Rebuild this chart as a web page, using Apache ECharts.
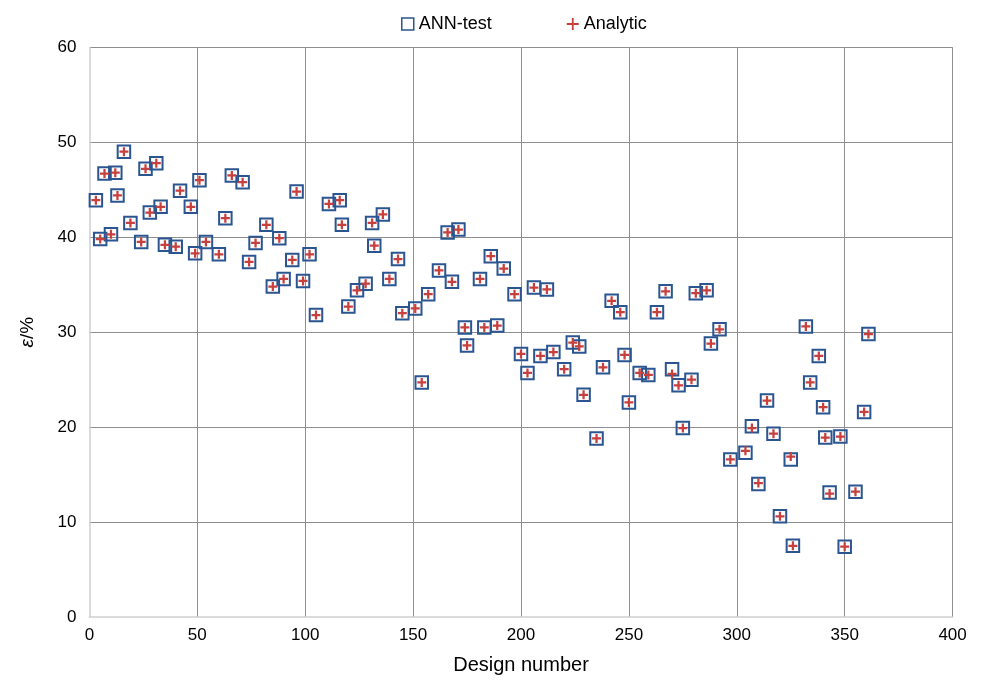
<!DOCTYPE html>
<html>
<head>
<meta charset="utf-8">
<script src="https://cdn.jsdelivr.net/npm/echarts@6/dist/echarts.min.js"></script>
<style>
html,body{margin:0;padding:0;background:#fff;}
#chart{width:981px;height:680px;}
</style>
</head>
<body>
<div id="chart"></div>
<script>
const designNumbers = [3,5,7,10,12,13,16,19,24,26,28,31,33,35,40,42,47,49,51,54,60,63,66,71,74,77,82,85,88,90,94,96,99,102,105,111,116,117,120,124,128,131,132,136,139,143,145,151,154,157,162,166,168,171,174,175,181,183,186,189,192,197,200,203,206,209,212,215,220,224,227,229,235,238,242,246,248,250,255,259,263,267,270,273,275,279,281,286,288,292,297,304,307,310,314,317,320,325,326,332,334,338,340,341,343,348,350,355,359,361];
const annTest = [43.9,39.8,46.7,40.3,46.8,44.4,49.0,41.5,39.5,47.2,42.6,47.8,43.2,39.2,39.0,44.9,43.2,38.3,46.0,39.5,38.2,42.0,46.5,45.8,37.4,39.4,41.3,34.8,39.9,35.6,37.6,44.8,35.4,38.2,31.8,43.5,43.9,41.3,32.7,34.4,35.1,41.5,39.1,42.4,35.6,37.7,32.0,32.5,24.7,34.0,36.5,40.5,35.3,40.8,30.5,28.6,35.6,30.5,38.0,30.7,36.7,34.0,27.7,25.7,34.7,27.5,34.5,27.9,26.1,28.9,28.5,23.4,18.8,26.3,33.3,32.1,27.6,22.6,25.7,25.5,32.1,34.3,26.1,24.4,19.9,25.0,34.1,34.4,28.8,30.3,16.6,17.3,20.1,14.0,22.8,19.3,10.6,16.6,7.5,30.6,24.7,27.5,22.1,18.9,13.1,19.0,7.4,13.2,21.6,29.8];
const analytic = [43.9,39.8,46.7,40.3,46.8,44.4,49.0,41.5,39.5,47.2,42.6,47.8,43.2,39.2,39.0,44.9,43.2,38.3,46.0,39.5,38.2,42.0,46.5,45.8,37.4,39.4,41.3,34.8,39.9,35.6,37.6,44.8,35.4,38.2,31.8,43.5,43.9,41.3,32.7,34.4,35.1,41.5,39.1,42.4,35.6,37.7,32.0,32.5,24.7,34.0,36.5,40.5,35.3,40.8,30.5,28.6,35.6,30.5,38.0,30.7,36.7,34.0,27.7,25.7,34.7,27.5,34.5,27.9,26.1,28.9,28.5,23.4,18.8,26.3,33.3,32.1,27.6,22.6,25.7,25.5,32.1,34.3,25.6,24.4,19.9,25.0,34.1,34.4,28.8,30.3,16.6,17.5,19.9,14.1,22.8,19.3,10.6,16.9,7.5,30.6,24.7,27.5,22.1,18.9,13.0,19.0,7.4,13.2,21.6,29.8];
const xTicks = {min:0, max:400, interval:50};
const yTicks = {min:0, max:60, interval:10};

const annData = designNumbers.map((d,i)=>[d, annTest[i]]);
const anaData = designNumbers.map((d,i)=>[d, analytic[i]]);

const FONT = 'Liberation Sans, Arial, Helvetica, sans-serif';
const BLUE = '#2A5590';
const RED = '#C8403E';
const PLUS = 'path://M3,0H5V3H8V5H5V8H3V5H0V3H3Z';
const PLUS_THIN = 'path://M3.4,0H4.6V3.4H8V4.6H4.6V8H3.4V4.6H0V3.4H3.4Z';

const chart = echarts.init(document.getElementById('chart'), null, {renderer:'canvas'});
chart.setOption({
  animation:false,
  backgroundColor:'#ffffff',
  textStyle:{fontFamily:FONT},
  legend:{
    top:10,
    left:396,
    itemWidth:12,
    itemHeight:12,
    itemGap:75,
    textStyle:{fontSize:18,color:'#000',fontFamily:FONT},
    data:[
      {name:'ANN-test', icon:'rect', itemStyle:{color:'rgba(255,255,255,0)',borderColor:BLUE,borderWidth:1.5}},
      {name:'Analytic', icon:PLUS_THIN, itemStyle:{color:RED}}
    ]
  },
  grid:{left:89.4, right:28.4, top:47.3, bottom:62.7, containLabel:false},
  xAxis:{
    type:'value',
    min:xTicks.min, max:xTicks.max, interval:xTicks.interval,
    name:'Design number',
    nameLocation:'middle',
    nameGap:38,
    nameTextStyle:{fontSize:20,color:'#000',fontFamily:FONT},
    axisLine:{show:true,lineStyle:{color:'#cfcfcf',width:1.5}},
    axisTick:{show:false},
    axisLabel:{fontSize:17,color:'#000',margin:10,fontFamily:FONT},
    splitLine:{show:true,showMinLine:false,lineStyle:{color:'#8f8f8f',width:1}}
  },
  yAxis:{
    type:'value',
    min:yTicks.min, max:yTicks.max, interval:yTicks.interval,
    name:'{i|ε}/%',
    nameLocation:'middle',
    nameGap:52,
    nameRotate:90,
    nameTextStyle:{fontSize:19,color:'#000',fontFamily:FONT,rich:{i:{fontStyle:'italic',fontSize:19,fontFamily:FONT,color:'#000'}}},
    axisLine:{show:true,lineStyle:{color:'#cfcfcf',width:1.5}},
    axisTick:{show:false},
    axisLabel:{fontSize:17,color:'#000',margin:13,fontFamily:FONT},
    splitLine:{show:true,showMinLine:false,lineStyle:{color:'#8f8f8f',width:1}}
  },
  series:[
    {
      name:'ANN-test',
      type:'scatter',
      data:annData,
      symbol:'rect',
      symbolSize:12.5,
      itemStyle:{color:'rgba(255,255,255,0)',borderColor:BLUE,borderWidth:2,opacity:1},
      emphasis:{disabled:true},
      z:2
    },
    {
      name:'Analytic',
      type:'scatter',
      data:anaData,
      symbol:PLUS,
      symbolSize:9,
      itemStyle:{color:RED,opacity:1},
      emphasis:{disabled:true},
      z:3
    }
  ]
});
</script>
</body>
</html>
